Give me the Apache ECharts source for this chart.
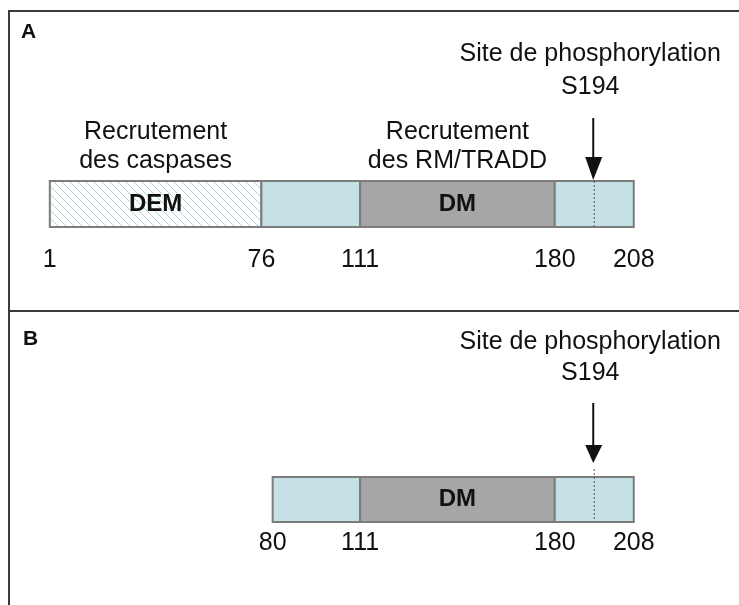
<!DOCTYPE html>
<html>
<head>
<meta charset="utf-8">
<script src="https://cdn.jsdelivr.net/npm/echarts@6/dist/echarts.min.js"></script>
<style>
    html, body { margin: 0; background: #fff; }
    #chart { width: 739px; height: 605px; }
</style>
</head>
<body>
<div id="chart"></div>
<script>
// residue boundaries of each construct
let boundsA = [1, 76, 111, 180, 208];
let boundsB = [80, 111, 180, 208];
// domain between two boundaries ('' = linker)
let domainsA = ['DEM', '', 'DM', ''];
let domainsB = ['', 'DM', ''];
// what the domain recruits
let rolesA = ['Recrutement\ndes caspases', '', 'Recrutement\ndes RM/TRADD', ''];
let rolesB = ['', '', ''];
let siteResidue = 194;
let siteText = 'Site de phosphorylation\nS194';
let panelNames = ['A', 'B'];

let FONT = "'Liberation Sans', Arial, sans-serif";
let INK = '#111';

// layout per panel (pixels relative to the bar)
let panelLayout = [
    { top: 181, height: 46, numGap: 33, roleGap: 34, siteGap: 110, siteLH: 33, shaft: 63, headTop: 24, tip: 1, dotTop: 0 },
    { top: 477, height: 45, numGap: 21, roleGap: 34, siteGap: 119, siteLH: 31, shaft: 74, headTop: 32, tip: 14, dotTop: 8 }
];

// diagonal hatch for DEM
let hatch = (function () {
    let c = document.createElement('canvas');
    c.width = 8; c.height = 8;
    let g = c.getContext('2d');
    g.fillStyle = '#fff';
    g.fillRect(0, 0, 8, 8);
    g.strokeStyle = '#a9d5dd';
    g.lineWidth = 1;
    g.beginPath();
    g.moveTo(-1, -1); g.lineTo(9, 9);
    g.moveTo(-1, 7); g.lineTo(1, 9);
    g.moveTo(7, -1); g.lineTo(9, 1);
    g.stroke();
    return { image: c, repeat: 'repeat' };
})();

function txt(x, y, text, size, weight, lh) {
    return {
        type: 'text', x: x, y: y,
        style: {
            text: text, fill: INK,
            font: (weight || 'normal') + ' ' + size + 'px ' + FONT,
            fontSize: size, fontFamily: FONT, fontWeight: weight || 'normal',
            lineHeight: lh || size,
            align: 'center', verticalAlign: 'middle',
            textAlign: 'center', textVerticalAlign: 'middle'
        }
    };
}

function segmentSeries(pi, bounds, domains, roles) {
    let lay = panelLayout[pi];
    let data = [];
    for (let i = 0; i < bounds.length - 1; i++) {
        data.push([bounds[i], bounds[i + 1]]);
    }
    return {
        type: 'custom', xAxisIndex: pi, yAxisIndex: pi, silent: true, clip: false,
        data: data,
        renderItem: function (params, api) {
            let i = params.dataIndex;
            let tl = api.coord([api.value(0), 1]);
            let br = api.coord([api.value(1), 0]);
            let name = domains[i];
            let fill = name === 'DEM' ? hatch : (name ? '#a6a6a6' : '#c6e1e5');
            let cx = (tl[0] + br[0]) / 2;
            let cy = (tl[1] + br[1]) / 2;
            let kids = [{
                type: 'rect',
                shape: { x: tl[0], y: tl[1], width: br[0] - tl[0], height: br[1] - tl[1] },
                style: { fill: fill, stroke: '#7c7c7c', lineWidth: 2 }
            }];
            if (name) kids.push(txt(cx, cy, name, 24, 'bold'));
            if (roles[i]) kids.push(txt(cx, tl[1] - lay.roleGap, roles[i], 25, 'normal', 29));
            return { type: 'group', children: kids };
        }
    };
}

function numberSeries(pi, bounds) {
    let lay = panelLayout[pi];
    return {
        type: 'custom', xAxisIndex: pi, yAxisIndex: pi, silent: true, clip: false,
        data: bounds.map(function (b) { return [b]; }),
        renderItem: function (params, api) {
            let p = api.coord([api.value(0), 0]);
            return txt(p[0], p[1] + lay.numGap, String(api.value(0)), 25);
        }
    };
}

function siteSeries(pi) {
    let lay = panelLayout[pi];
    return {
        type: 'custom', xAxisIndex: pi, yAxisIndex: pi, silent: true, clip: false,
        data: [[siteResidue]],
        renderItem: function (params, api) {
            let top = api.coord([api.value(0), 1]);
            let bot = api.coord([api.value(0), 0]);
            let x = top[0];
            let y = top[1];
            return {
                type: 'group',
                children: [
                    {
                        type: 'line',
                        shape: { x1: x, y1: y - lay.dotTop, x2: x, y2: bot[1] },
                        style: { stroke: '#555', lineWidth: 1, lineDash: [2, 2] }
                    },
                    {
                        type: 'line',
                        shape: { x1: x - 1, y1: y - lay.shaft, x2: x - 1, y2: y - lay.headTop + 2 },
                        style: { stroke: INK, lineWidth: 2 }
                    },
                    {
                        type: 'polygon',
                        shape: { points: [[x - 9, y - lay.headTop], [x + 8, y - lay.headTop], [x - 1, y - lay.tip]] },
                        style: { fill: INK }
                    },
                    txt(x - 4, y - lay.siteGap, siteText, 25, 'normal', lay.siteLH)
                ]
            };
        }
    };
}

let myChart = echarts.init(document.getElementById('chart'));

let option = {
    backgroundColor: '#fff',
    animation: false,
    grid: panelLayout.map(function (l) {
        return { left: 47, right: 15, top: l.top, height: l.height };
    }),
    xAxis: [0, 1].map(function (i) {
        return { type: 'value', gridIndex: i, min: 0, max: 240, show: false };
    }),
    yAxis: [0, 1].map(function (i) {
        return { type: 'value', gridIndex: i, min: 0, max: 1, show: false };
    }),
    graphic: [
        { type: 'line', shape: { x1: 8, y1: 11, x2: 739, y2: 11 }, style: { stroke: '#3a3a3a', lineWidth: 2 } },
        { type: 'line', shape: { x1: 9, y1: 10, x2: 9, y2: 605 }, style: { stroke: '#3a3a3a', lineWidth: 2 } },
        { type: 'line', shape: { x1: 9, y1: 311, x2: 739, y2: 311 }, style: { stroke: '#3a3a3a', lineWidth: 2 } },
        {
            type: 'text', left: 21, top: 22,
            style: { text: panelNames[0], font: 'bold 21px ' + FONT, fill: INK }
        },
        {
            type: 'text', left: 23, top: 329,
            style: { text: panelNames[1], font: 'bold 21px ' + FONT, fill: INK }
        }
    ],
    series: [
        segmentSeries(0, boundsA, domainsA, rolesA),
        numberSeries(0, boundsA),
        siteSeries(0),
        segmentSeries(1, boundsB, domainsB, rolesB),
        numberSeries(1, boundsB),
        siteSeries(1)
    ]
};

myChart.setOption(option, true);
</script>
</body>
</html>
